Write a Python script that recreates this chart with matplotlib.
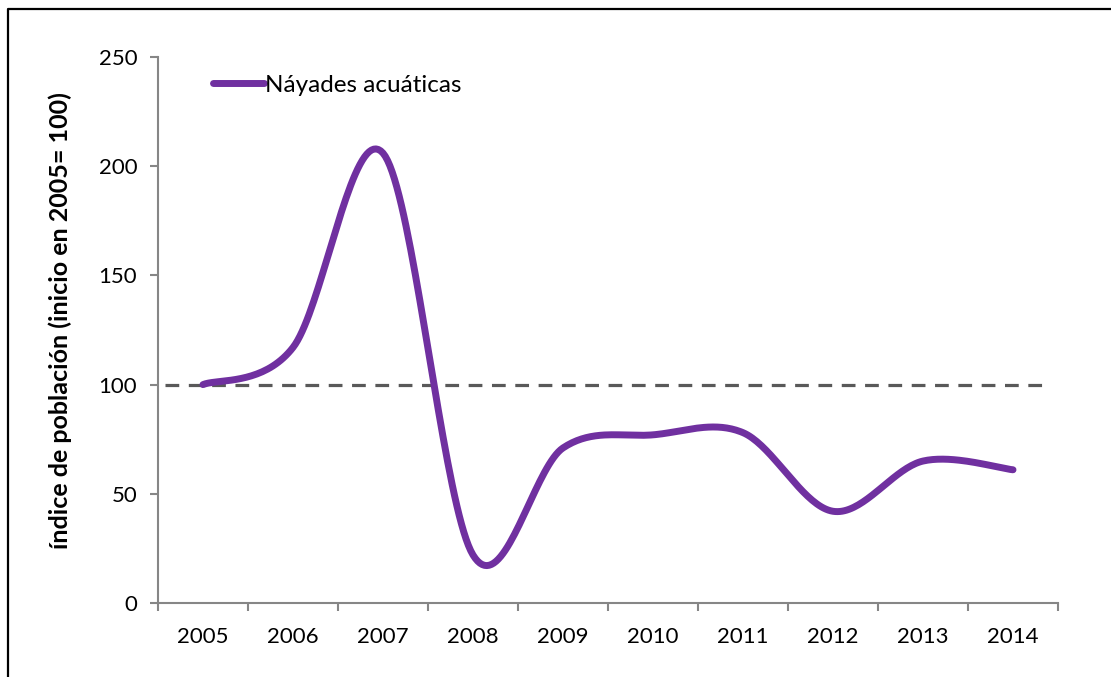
import numpy as np
import matplotlib
matplotlib.use("Agg")
import matplotlib.pyplot as plt
from matplotlib.lines import Line2D

# Population index for aquatic naiads (2005 = 100)
years = ["2005", "2006", "2007", "2008", "2009", "2010", "2011", "2012", "2013", "2014"]
naiad_index = [100, 117, 206, 22, 71, 77, 78, 42, 65, 61]
baseline = 100

LINE_COLOR = "#7030A0"
AXIS_COLOR = "#868686"


def smooth_curve(x, y, n=40):
    """Bezier smoothing through every point (Excel-style smoothed line)."""
    x = np.asarray(x, float)
    y = np.asarray(y, float)
    px = np.concatenate([[x[0]], x, [x[-1]]])
    py = np.concatenate([[y[0]], y, [y[-1]]])
    xs, ys = [], []
    t = np.linspace(0, 1, n)
    for i in range(1, len(px) - 2):
        p0 = np.array([px[i], py[i]])
        p3 = np.array([px[i + 1], py[i + 1]])
        p1 = p0 + (np.array([px[i + 1], py[i + 1]]) - np.array([px[i - 1], py[i - 1]])) / 6
        p2 = p3 - (np.array([px[i + 2], py[i + 2]]) - np.array([px[i], py[i]])) / 6
        b = ((1 - t) ** 3)[:, None] * p0 + (3 * (1 - t) ** 2 * t)[:, None] * p1 \
            + (3 * (1 - t) * t ** 2)[:, None] * p2 + (t ** 3)[:, None] * p3
        xs.append(b[:, 0])
        ys.append(b[:, 1])
    return np.concatenate(xs), np.concatenate(ys)


plt.rcParams["font.family"] = ["Lato", "DejaVu Sans"]

fig = plt.figure(figsize=(11.11, 6.77), dpi=100)
ax = fig.add_axes([0.1422, 0.1093, 0.8101, 0.8065])

pos = np.arange(len(years))
sx, sy = smooth_curve(pos, naiad_index)
ax.plot(sx, sy, color=LINE_COLOR, lw=5, solid_capstyle="round", zorder=3)

# reference level at 100
ax.hlines(baseline, -0.42, 9.4, colors="#595959", linestyles=(0, (4.3, 3.0)), lw=2.3, zorder=2)

ax.set_xlim(-0.5, len(years) - 0.5)
ax.set_ylim(0, 250)
ax.set_yticks(range(0, 251, 50))
ax.set_xticks(pos)
ax.set_xticklabels(years)
ax.set_xticks(np.arange(-0.5, len(years)), minor=True)
ax.tick_params(axis="x", which="major", length=0, pad=17, labelsize=16)
ax.tick_params(axis="x", which="minor", length=6, width=1.5, color=AXIS_COLOR, direction="out")
ax.tick_params(axis="y", length=6, width=1.5, color=AXIS_COLOR, pad=9, labelsize=16)

for side in ("top", "right"):
    ax.spines[side].set_visible(False)
for side in ("left", "bottom"):
    ax.spines[side].set_color(AXIS_COLOR)
    ax.spines[side].set_linewidth(1.5)

ax.set_ylabel("índice de población (inicio en 2005= 100)", fontsize=18, fontweight="bold")
ax.yaxis.set_label_coords(-0.0956, 0.518)

handle = Line2D([], [], color=LINE_COLOR, lw=5, solid_capstyle="round")
ax.legend([handle], ["Náyades acuáticas"], loc="upper left", bbox_to_anchor=(0.05, 0.985),
          frameon=False, fontsize=17.5, handlelength=2.1, handletextpad=0.05, borderaxespad=0)

# chart frame: only top and left edges fall inside the image
fig.add_artist(Line2D([8 / 1111, 8 / 1111, 1.0], [0.0, 1 - 9 / 677, 1 - 9 / 677],
                      transform=fig.transFigure, color="black", lw=1.6))

fig.savefig("out.png", dpi=100, facecolor="white")
